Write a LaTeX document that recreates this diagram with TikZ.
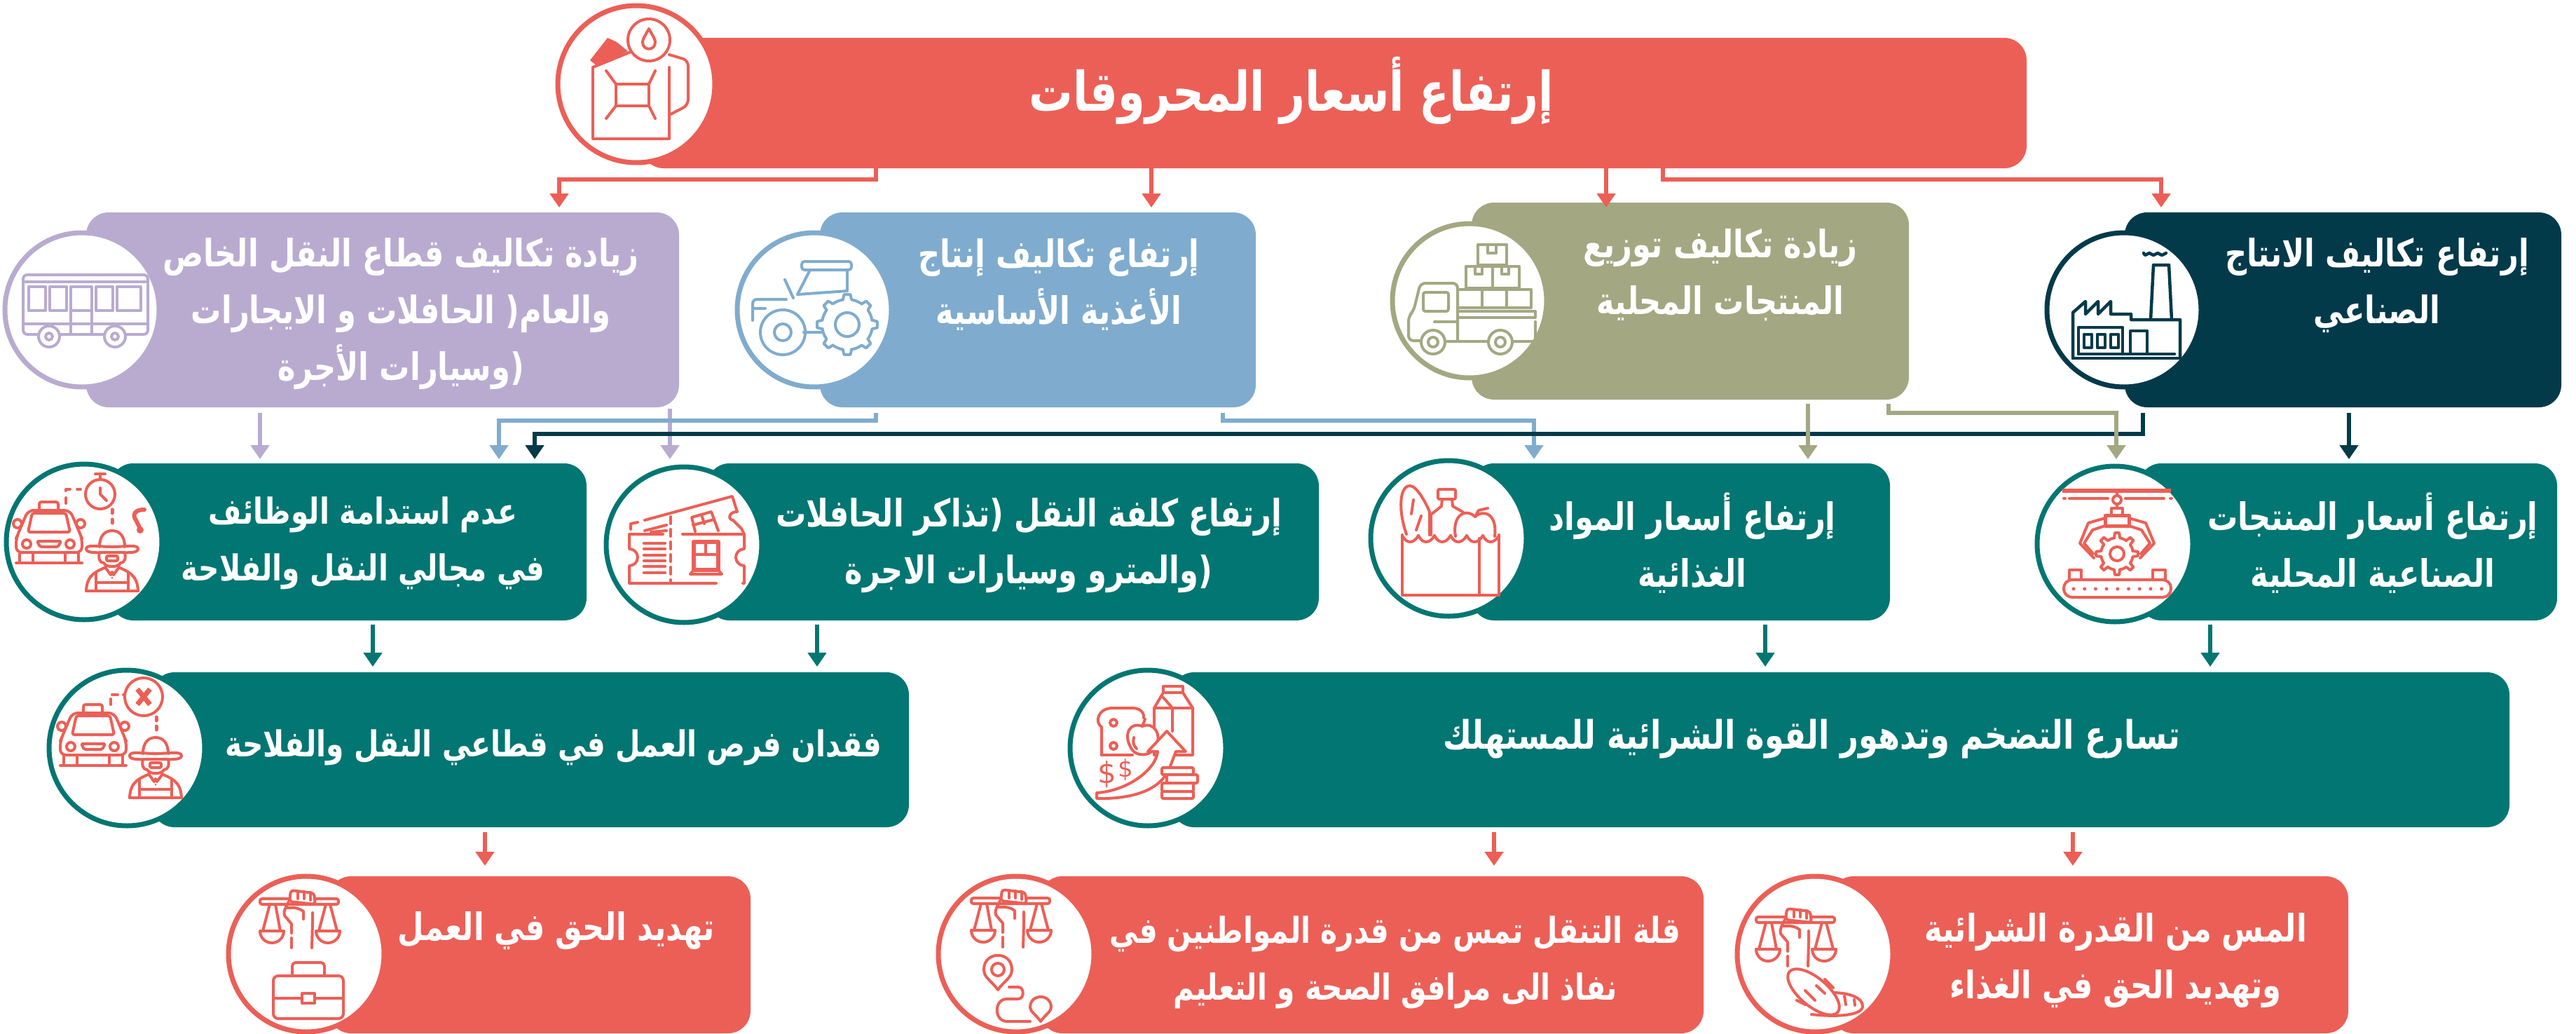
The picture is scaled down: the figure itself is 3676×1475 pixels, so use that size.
\documentclass[tikz,border=0pt]{standalone}
\usepackage{fontspec}
\usetikzlibrary{arrows.meta}
\newfontfamily\arabicfont[Script=Arabic,FakeStretch=0.8]{DejaVu Sans}
\TeXXeTstate=1
\definecolor{cR}{HTML}{EC5F56}
\definecolor{cP}{HTML}{B9ABD0}
\definecolor{cB}{HTML}{7FACCE}
\definecolor{cO}{HTML}{A3A882}
\definecolor{cN}{HTML}{023A4A}
\definecolor{cT}{HTML}{027672}
\newcommand{\rl}[1]{\beginR #1\endR}
\newcommand{\mybox}[6]{\node[boxst,fill=#2,minimum width={#5-#3},minimum height={#6-#4}] (#1) at ({(#3+#5)/2},{(#4+#6)/2}) {};}
\newcommand{\myring}[5]{\node[ringst,draw=#2,minimum width={2*#5},minimum height={2*#5}] (#1) at (#3,#4) {};}
\newcommand{\mygear}[3]{\foreach \a in {0,45,...,315}{\draw (\a-#3:#1)--(\a-#3+4:#2)--(\a+#3-4:#2)--(\a+#3:#1) arc[start angle=\a+#3,end angle=\a+45-#3,radius=#1];}}
\tikzset{
 boxst/.style={rectangle,rounded corners=32pt,inner sep=0pt,outer sep=0pt,draw=none},
 ringst/.style={circle,fill=white,line width=7pt,inner sep=0pt,outer sep=0pt},
 lab/.style={text=white,align=center,inner sep=0pt,font=\arabicfont\bfseries\fontsize{54}{81}\selectfont},
 labsm/.style={lab,font=\arabicfont\bfseries\fontsize{51}{81}\selectfont},
 conn/.style={line width=6pt,-{Triangle[width=26pt,length=20pt]}},
 iR/.style={color=cR,line width=4pt,line cap=round,line join=round},
 iP/.style={color=cP,line width=4pt,line cap=round,line join=round},
 iB/.style={color=cB,line width=4pt,line cap=round,line join=round},
 iO/.style={color=cO,line width=4pt,line cap=round,line join=round},
 iN/.style={color=cN,line width=4.5pt,line cap=round,line join=round},
 ictaxi/.pic={
  \draw[rounded corners=3pt] (-14,-35) -- (-14,-47) -- (13,-47) -- (13,-35);
  \draw[rounded corners=8pt] (-44,-2) -- (-30,-35) -- (30,-35) -- (44,-2) -- (47,5) -- (47,25) -- (-47,25) -- (-47,5) -- cycle;
  \draw[rounded corners=3pt] (-30,-4) -- (-24,-31) -- (24,-31) -- (30,-4) -- cycle;
  \draw (-45,-16) circle (6); \draw (45,-16) circle (6);
  \draw (-32,13) circle (6); \draw (30,13) circle (6);
  \draw[rounded corners=2pt] (-17,9) -- (17,9) -- (13,17) -- (-13,17) -- cycle;
  \draw (-42,25) -- (-42,40); \draw (-23,25) -- (-23,40); \draw (23,25) -- (23,40); \draw (42,25) -- (42,40);
  \draw (-47,40) -- (47,40);
 },
 icfarmer/.pic={
  \draw (-37,-17) .. controls (-37,-24) and (-20,-20) .. (0,-20) .. controls (20,-20) and (37,-24) .. (37,-17) .. controls (37,-10) and (20,-12) .. (0,-12) .. controls (-20,-12) and (-37,-10) .. (-37,-17) -- cycle;
  \draw (-18,-20) .. controls (-18,-36) and (-10,-43) .. (0,-43) .. controls (10,-43) and (18,-36) .. (18,-20);
  \draw (-18,-12) .. controls (-20,-4) and (-18,3) .. (-12,3) .. controls (-8,10) and (8,10) .. (12,3) .. controls (18,3) and (20,-4) .. (18,-12);
  \draw[rounded corners=2pt] (-8,-7) rectangle (8,0);
  \draw (-37,43) .. controls (-36,25) and (-30,18) .. (-11,10);
  \draw (37,43) .. controls (36,25) and (30,18) .. (11,10);
  \draw (-37,43) -- (37,43);
  \draw (-23,18) -- (-23,43); \draw (23,18) -- (23,43);
  \draw (-23,31) -- (23,31);
  \draw (-10,9) -- (-2,20) -- (0,16) -- (2,20) -- (10,9);
  \fill (0,24) circle (1.5);
 },
 icscales/.pic={
  \draw[rounded corners=3pt] (-57,-4) rectangle (55,4);
  \filldraw[fill=white,rounded corners=4pt] (-15,0) -- (-13,-16) -- (20,-12) -- (22,4) -- cycle;
  \draw (-3,-14) -- (-3,-4); \draw (6,-14) -- (6,-4); \draw (15,-13) -- (15,-2);
  \draw (-16,0) .. controls (-20,8) and (-24,14) .. (-22,20) -- (-12,32) -- (-12,45);
  \draw (-12,52) -- (-12,66);
  \draw (18,16) -- (18,32) -- (17,66);
  \draw (-18,9) .. controls (-8,8) and (0,10) .. (5,14) -- (5,25);
  \draw (-43,4) -- (-53,42); \draw (-35,4) -- (-28,42);
  \draw (37,4) -- (27,42); \draw (43,4) -- (53,42);
  \draw (-57,42) -- (-23,42) arc[start angle=0,end angle=180,radius=17];
  \draw (23,42) -- (57,42) arc[start angle=0,end angle=180,radius=17];
 },
 icfuel/.pic={
  \fill (-66,-34) -- (-41,-66) -- (-28,-60) -- (-12,-47) -- (-56,-26) -- cycle;
  \draw (-62,-24) -- (-62,78) -- (47,78) -- (47,-24);
  \draw (-62,-24) -- (-8,-46);
  \draw[rounded corners=8pt] (47,-42) -- (74,-34) -- (74,30) -- (47,44);
  \filldraw[fill=white] (18,-63) circle (30);
  \draw (18,-79) .. controls (12,-68) and (9,-64) .. (9,-60) .. controls (9,-47) and (27,-47) .. (27,-60) .. controls (27,-64) and (24,-68) .. (18,-79) -- cycle;
  \draw (-29,0) rectangle (18,31);
  \draw (-29,0) -- (-43,-19); \draw (18,0) -- (27,-19);
  \draw (-29,31) -- (-43,49); \draw (18,31) -- (27,49);
 },
 icbus/.pic={
  \draw[rounded corners=6pt] (-84,-50) rectangle (94,35);
  \draw (-84,-40) -- (94,-40);
  \foreach \xa/\xb in {-76/-52,-46/-22,-16/14,20/44,50/84}{\draw (\xa,-33) rectangle (\xb,1);}
  \draw (-16,1) -- (-16,35); \draw (14,1) -- (14,35);
  \draw (-84,20) -- (94,20);
  \filldraw[fill=white] (-47,38) circle (15); \filldraw[fill=white] (47,38) circle (15);
  \draw (-47,38) circle (5); \draw (47,38) circle (5);
 },
 ictractor/.pic={
  \draw[rounded corners=4pt] (-18,-69) rectangle (53,-57);
  \draw (-6,-57) -- (-24,-22); \draw (47,-57) -- (47,-27);
  \draw (-42,-43) -- (-30,-17);
  \draw[rounded corners=6pt] (-40,-15) -- (-88,-15) -- (-88,15);
  \draw (-88,-2) -- (-70,-2);
  \draw (-24,-22) -- (47,-27);
  \filldraw[fill=white] (-45,32) circle (32);
  \draw (-45,32) circle (12);
  \draw (-15,32) -- (10,32);
  \begin{scope}[shift={(47,21)}]
   \fill[white] (0,0) circle (36);
   \mygear{36}{43}{10}
   \draw (0,0) circle (17);
  \end{scope}
 },
 ictruck/.pic={
  \draw (12,-80) rectangle (53,-51);
  \draw (26,-80) -- (26,-68) -- (38,-68) -- (38,-80);
  \draw (-5,-49) rectangle (71,-18); \draw (33,-49) -- (33,-18);
  \draw (8,-49) -- (8,-38) -- (18,-38) -- (18,-49);
  \draw (46,-49) -- (46,-38) -- (56,-38) -- (56,-49);
  \draw (-17,-16) rectangle (88,10); \draw (18,-16) -- (18,10); \draw (53,-16) -- (53,10);
  \draw (-17,15) rectangle (94,24);
  \draw[rounded corners=7pt] (-17,57) -- (-17,-25) -- (-70,-25) -- (-80,15) -- (-87,22) -- (-87,57) -- (-70,57);
  \draw[rounded corners=3pt] (-30,-12) rectangle (-66,15);
  \draw (-17,30) -- (-50,30);
  \draw (-32,58) -- (25,58);
  \draw (64,58) -- (94,58) -- (94,30);
  \filldraw[fill=white] (-52,59) circle (17); \filldraw[fill=white] (44,59) circle (17);
  \draw (-52,59) circle (7); \draw (44,59) circle (7);
 },
 icfactory/.pic={
  \draw (-73,69) -- (80,69);
  \draw (-73,69) -- (-73,4) -- (-55,-12) -- (-55,6) -- (-37,-12) -- (-37,6) -- (-19,-12) -- (-19,6) -- (10,6) -- (10,14) -- (80,14) -- (80,69);
  \draw (38,14) -- (42,-64) -- (64,-64) -- (68,14);
  \draw (28,-81) -- (30,-78) -- (36,-81) -- (42,-78) -- (48,-81) -- (54,-78) -- (60,-81);
  \draw (-57,35) rectangle (-46,54); \draw (-38,35) rectangle (-27,54); \draw (-19,35) rectangle (-8,54);
  \draw (9,30) rectangle (33,63);
  \draw (-65,63) -- (72,63);
  \draw (-65,63) -- (-65,25) -- (-2,25) -- (-2,63);
 },
 icticket/.pic={
  \draw (-30,-15) -- (-78,-15) -- (-78,6) arc[start angle=-90,end angle=90,radius=12] -- (-78,55) -- (46,55);
  \draw (84,55) -- (86,55) -- (86,30) arc[start angle=90,end angle=270,radius=12] -- (86,-15) -- (-2,-15);
  \draw[dash pattern=on 10pt off 8pt] (-19,-40) -- (-19,55);
  \foreach \yy in {-2,6,15,23,31,40}{\draw[line width=4.5pt] (-57,\yy) -- (-27,\yy);}
  \draw[line width=5.5pt] (14,-4) rectangle (49,36);
  \draw[line width=4pt] (31,-4) -- (31,14) ; \draw[line width=4pt] (14,14) -- (49,14);
  \draw (14,36) -- (9,42) -- (54,42) -- (49,36);
  \draw (-76,-22) -- (-76,-30) -- (-66,-32); \draw (-56,-35) -- (69,-69) -- (76,-47) .. controls (64,-47) and (62,-36) .. (70,-35) -- (82,-23) -- (86,-15);
  \draw (16,-19) -- (11,-39) -- (39,-47) -- (49,-20);
  \draw (13,-28) -- (43,-36); \draw (25,-43) -- (29,-30);
  \draw (-56,-20) -- (-25,-28); \draw (-47,-18) -- (-25,-20);
 },
 icbag/.pic={
  \draw (-60,-6) .. controls (-72,-40) and (-70,-75) .. (-55,-75) .. controls (-45,-75) and (-32,-50) .. (-27,-38) -- (-27,-5);
  \draw (-50,-55) -- (-53,-35); \draw (-39,-32) -- (-46,-12);
  \draw[rounded corners=2pt] (-15,-70) rectangle (10,-56);
  \draw (-9,-56) -- (-10,-46) -- (-25,-34) -- (-25,-5);
  \draw (5,-56) -- (6,-46) -- (20,-38);
  \draw (10,-3) .. controls (5,-30) and (22,-45) .. (38,-31) .. controls (50,-42) and (70,-35) .. (66,-3);
  \draw (38,-31) -- (43,-40) -- (56,-43);
  \draw (-66,-5) -- (-66,81) -- (72,81) -- (72,-5);
  \draw (44,0) -- (44,81);
  \foreach \i in {0,...,5}{\draw ({-66+23*\i},-4) .. controls ({-60+23*\i},8) and ({-50+23*\i},8) .. ({-43+23*\i},-4);}
 },
 icconv/.pic={
  \draw[line width=6pt,line cap=butt] (-75,-76) -- (80,-76);
  \draw (-73,-65) -- (-71,-65); \draw (-65,-65) -- (-10,-65); \draw (15,-65) -- (70,-65); \draw (79,-65) -- (81,-65);
  \draw (3,-76) -- (3,-69); \draw (3,-63) circle (6); \draw (3,-57) -- (3,-51);
  \draw (-5,-51) rectangle (11,-41);
  \draw[line width=5pt] (-14,-41) rectangle (20,-26);
  \draw (-14,-37) -- (-38,-30) -- (-50,-1) -- (-30,20); \draw (-14,-26) -- (-32,-20) -- (-44,-1) -- (-31,14);
  \draw (20,-37) -- (44,-30) -- (56,-1) -- (36,20); \draw (20,-26) -- (38,-20) -- (50,-1) -- (37,14);
  \begin{scope}[shift={(3,14)}]
   \mygear{23}{30}{10}
   \draw (0,0) circle (10);
  \end{scope}
  \draw (-65,51) rectangle (-48,37); \draw (54,51) rectangle (72,37);
  \draw[rounded corners=12pt] (-73,51) rectangle (80,76);
  \foreach \i in {0,...,8}{\fill ({-59+15.7*\i},64) circle (2.5);}
 },
 icfood/.pic={
  \draw (22,-88) rectangle (50,-79);
  \draw (22,-79) -- (9,-57) -- (9,10) -- (64,10) -- (64,-57) -- (50,-79);
  \draw (9,-57) -- (64,-57); \draw (22,-72) -- (35,-57) -- (35,-24);
  \draw (-62,10) -- (-66,10) -- (-66,-30) .. controls (-76,-36) and (-72,-57) .. (-50,-57) -- (-22,-57) .. controls (-8,-57) and (-5,-47) .. (-6,-43);
  \draw (-66,10) -- (-22,10);
  \draw (-49,-36) circle (5); \draw (-49,-3) circle (5);
  \filldraw[fill=white] (-8,-31) .. controls (-25,-38) and (-35,-20) .. (-25,-2) .. controls (-18,15) and (5,12) .. (12,-3) .. controls (20,-20) and (8,-38) .. (-8,-31) -- cycle;
  \draw (-20,-15) .. controls (-22,-8) and (-20,-3) .. (-16,1);
  \draw (-8,-31) -- (-4,-41);
  \filldraw[fill=white] (-73,64) .. controls (-28,61) and (12,30) .. (14,5) -- (0,5) -- (27,-24) -- (54,5) -- (40,5) -- (32,26) .. controls (19,63) and (-28,73) .. (-73,72) -- cycle;
  \filldraw[fill=white,rounded corners=2pt] (20,28) rectangle (65,38);
  \filldraw[fill=white,rounded corners=2pt] (27,38) rectangle (71,50);
  \filldraw[fill=white,rounded corners=2pt] (20,50) rectangle (65,62);
  \filldraw[fill=white,rounded corners=2pt] (20,62) rectangle (65,72);
 },
 icbrief/.pic={
  \draw[rounded corners=7pt] (-47,31) rectangle (53,92);
  \draw[rounded corners=5pt] (-20,31) -- (-20,12) -- (26,12) -- (26,31);
  \draw (-47,63) -- (-6,63); \draw (12,63) -- (53,63);
  \draw (-6,56) rectangle (12,70);
 },
 icroute/.pic={
  \draw (-26,51) .. controls (-35,38) and (-46,34) .. (-46,22) .. controls (-46,-5) and (-6,-5) .. (-6,22) .. controls (-6,34) and (-17,38) .. (-26,51) -- cycle;
  \draw (-26,22) circle (9);
  \draw (-10,47) -- (3,47) .. controls (12,47) and (12,64) .. (3,64) -- (-13,64) .. controls (-32,64) and (-32,96) .. (-13,96) -- (20,96);
  \draw (35,96) .. controls (28,86) and (20,82) .. (20,76) .. controls (20,56) and (50,56) .. (50,76) .. controls (50,82) and (42,86) .. (35,96) -- cycle;
 },
 icbread/.pic={
  \draw (25,55) .. controls (50,55) and (69,63) .. (68,75) .. controls (66,88) and (30,90) .. (-5,86);
  \draw (28,60) -- (28,70); \draw (42,60) -- (44,72); \draw (56,65) -- (57,73);
  \filldraw[fill=white,rotate around={-40:(-2,54)}] (-2,54) ellipse (45 and 20);
  \draw (-26,66) -- (-14,72); \draw (-14,52) -- (0,66); \draw (2,45) -- (14,56); \draw (14,36) -- (26,48);
 },
}
\begin{document}
\begin{tikzpicture}[x=1pt,y=-1pt]
\useasboundingbox (0,0) rectangle (3676,1475);
% boxes
\mybox{top}{cR}{915}{54}{2892}{240}
\mybox{pur}{cP}{123}{303}{969}{581}
\mybox{blu}{cB}{1170}{303}{1792}{581}
\mybox{oli}{cO}{2100}{289}{2724}{570}
\mybox{nav}{cN}{3032}{303}{3655}{581}
\mybox{ra}{cT}{158}{661}{837}{885}
\mybox{rb}{cT}{1009}{661}{1882}{885}
\mybox{rc}{cT}{2100}{661}{2697}{885}
\mybox{rd}{cT}{3052}{661}{3649}{885}
\mybox{ca}{cT}{217}{959}{1297}{1180}
\mybox{cb}{cT}{1672}{959}{3581}{1180}
\mybox{ea}{cR}{469}{1250}{1071}{1474}
\mybox{eb}{cR}{1484}{1250}{2431}{1474}
\mybox{ec}{cR}{2613}{1250}{3351}{1474}
% rings
\myring{rtop}{cR}{908}{120}{112}
\myring{rpur}{cP}{117}{442}{110}
\myring{rblu}{cB}{1162}{442}{110}
\myring{roli}{cO}{2097}{429}{110}
\myring{rnav}{cN}{3031}{442}{110}
\myring{rra}{cT}{120}{773}{111}
\myring{rrb}{cT}{976}{777}{111}
\myring{rrc}{cT}{2067}{768}{111}
\myring{rrd}{cT}{3018}{776}{111}
\myring{rca}{cT}{181}{1067}{111}
\myring{rcb}{cT}{1638}{1067}{111}
\myring{rea}{cR}{437}{1361}{111}
\myring{reb}{cR}{1450}{1361}{111}
\myring{rec}{cR}{2590}{1361}{111}
% connectors
\draw[conn,cR,shorten >=7pt] (1250,0 |- top.south) -- (1250,256) -- (798,256) -- (798,0 |- pur.north);
\draw[conn,cR,shorten >=7pt] (1643,0 |- top.south) -- (1643,0 |- blu.north);
\draw[conn,cR,shorten >=-7pt] (2292,0 |- top.south) -- (2292,0 |- oli.north);
\draw[conn,cR,shorten >=7pt] (2373,0 |- top.south) -- (2373,256) -- (3084,256) -- (3084,0 |- nav.north);
\draw[conn,cP,shorten <=8pt,shorten >=6pt] (371,0 |- pur.south) -- (371,0 |- ra.north);
\draw[conn,cP,shorten <=2pt,shorten >=6pt] (956,0 |- pur.south) -- (956,0 |- rb.north);
\draw[conn,cB,shorten <=8pt,shorten >=6pt] (1250,0 |- blu.south) -- (1250,600) -- (712,600) -- (712,0 |- ra.north);
\draw[conn,cB,shorten <=8pt,shorten >=6pt] (1745,0 |- blu.south) -- (1745,600) -- (2189,600) -- (2189,0 |- rc.north);
\draw[conn,cN,shorten <=8pt,shorten >=6pt] (3058,0 |- nav.south) -- (3058,619) -- (763,619) -- (763,0 |- ra.north);
\draw[conn,cN,shorten <=8pt,shorten >=6pt] (3352,0 |- nav.south) -- (3352,0 |- rd.north);
\draw[conn,cO,shorten <=6pt,shorten >=6pt] (2580,0 |- oli.south) -- (2580,0 |- rc.north);
\draw[conn,cO,shorten <=6pt,shorten >=6pt] (2695,0 |- oli.south) -- (2695,589) -- (3020,589) -- (3020,0 |- rd.north);
\draw[conn,cT,shorten <=6pt,shorten >=8pt] (532,0 |- ra.south) -- (532,0 |- ca.north);
\draw[conn,cT,shorten <=6pt,shorten >=8pt] (1166,0 |- rb.south) -- (1166,0 |- ca.north);
\draw[conn,cT,shorten <=6pt,shorten >=8pt] (2519,0 |- rc.south) -- (2519,0 |- cb.north);
\draw[conn,cT,shorten <=6pt,shorten >=8pt] (3154,0 |- rd.south) -- (3154,0 |- cb.north);
\draw[conn,cR,shorten <=7pt,shorten >=15pt] (692,0 |- ca.south) -- (692,0 |- ea.north);
\draw[conn,cR,shorten <=7pt,shorten >=15pt] (2132,0 |- cb.south) -- (2132,0 |- eb.north);
\draw[conn,cR,shorten <=7pt,shorten >=15pt] (2958,0 |- cb.south) -- (2958,0 |- ec.north);
% labels
\node[lab,font=\arabicfont\bfseries\fontsize{78}{83}\selectfont] (ltop) at (1843,129) {\rl{إرتفاع أسعار المحروقات}};
\node[lab] (lpur) at (572,448) {\rl{زيادة تكاليف قطاع النقل الخاص}\\\rl{والعام( الحافلات و الايجارات}\\\rl{(وسيارات الأجرة}};
\node[lab] (lblu) at (1511,406) {\rl{إرتفاع تكاليف إنتاج}\\\rl{الأغذية الأساسية}};
\node[lab] (loli) at (2455,392) {\rl{زيادة تكاليف توزيع}\\\rl{المنتجات المحلية}};
\node[lab] (lnav) at (3392,407) {\rl{إرتفاع تكاليف الانتاج}\\\rl{الصناعي}};
\node[labsm] (lra) at (518,775) {\rl{عدم استدامة الوظائف}\\\rl{في مجالي النقل والفلاحة}};
\node[lab] (lrb) at (1468,778) {\rl{إرتفاع كلفة النقل (تذاكر الحافلات}\\\rl{(والمترو وسيارات الاجرة}};
\node[lab] (lrc) at (2415,775) {\rl{إرتفاع أسعار  المواد}\\\rl{الغذائية}};
\node[lab] (lrd) at (3386,775) {\rl{إرتفاع أسعار المنتجات}\\\rl{الصناعية المحلية}};
\node[labsm] (lca) at (790,1066) {\rl{فقدان فرص العمل في قطاعي النقل والفلاحة}};
\node[lab,font=\arabicfont\bfseries\fontsize{56}{81}\selectfont] (lcb) at (2585,1054) {\rl{تسارع التضخم وتدهور القوة الشرائية للمستهلك}};
\node[lab] (lea) at (794,1328) {\rl{تهديد الحق في العمل}};
\node[labsm] (leb) at (1991,1373) {\rl{قلة التنقل تمس من قدرة المواطنين في}\\\rl{نفاذ الى مرافق الصحة و التعليم}};
\node[lab] (lec) at (3019,1370) {\rl{المس من القدرة الشرائية}\\\rl{وتهديد الحق في الغذاء}};
% icons
\begin{scope}[iR]
 \pic at (908,120) {icfuel};
\end{scope}
\begin{scope}[iP] \pic at (117,442) {icbus}; \end{scope}
\begin{scope}[iB] \pic at (1162,442) {ictractor}; \end{scope}
\begin{scope}[iO] \pic at (2097,429) {ictruck}; \end{scope}
\begin{scope}[iN] \pic at (3031,442) {icfactory}; \end{scope}
\begin{scope}[iR]
 \pic at (70,763) {ictaxi};
 \pic at (160,800) {icfarmer};
 \draw (143,705) circle (21);
 \draw (143,678) -- (143,684); \draw (136,676) -- (150,676);
 \draw (143,696) -- (143,705) -- (152,714);
 \draw[dash pattern=on 8pt off 10pt] (94,718) -- (94,698) -- (115,698);
 \draw[dash pattern=on 5pt off 9pt,line width=5pt] (160,727) -- (160,752);
 \draw[line width=6pt] (206,727) .. controls (191,727) and (189,735) .. (194,742) -- (199,752);
 \fill (200,756) circle (5);
 \pic at (976,777) {icticket};
 \pic at (2067,768) {icbag};
 \pic at (3018,776) {icconv};
 \pic at (133,1052) {ictaxi};
 \pic at (222,1095) {icfarmer};
 \draw (205,994) circle (27);
 \draw[line width=7pt,line cap=butt] (196,983) -- (214,1005); \draw[line width=7pt,line cap=butt] (214,983) -- (196,1005);
 \draw[dash pattern=on 8pt off 8pt] (158,1005) -- (158,991) -- (178,991);
 \draw[dash pattern=on 5pt off 8pt,line width=5pt] (223,1023) -- (223,1048);
 \pic at (1638,1067) {icfood};
 \node[text=cR,inner sep=0pt,font=\fontspec{DejaVu Sans}\fontsize{42}{42}\selectfont] (ds1) at (1580,1105) {\$};
 \node[text=cR,inner sep=0pt,font=\fontspec{DejaVu Sans}\fontsize{34}{34}\selectfont] (ds2) at (1606,1098) {\$};
 \pic at (428,1286) {icscales};
 \pic at (437,1361) {icbrief};
 \pic at (1443,1285) {icscales};
 \pic at (1450,1361) {icroute};
 \pic at (2563,1312) {icscales};
 \pic at (2590,1361) {icbread};
\end{scope}
\end{tikzpicture}
\end{document}
